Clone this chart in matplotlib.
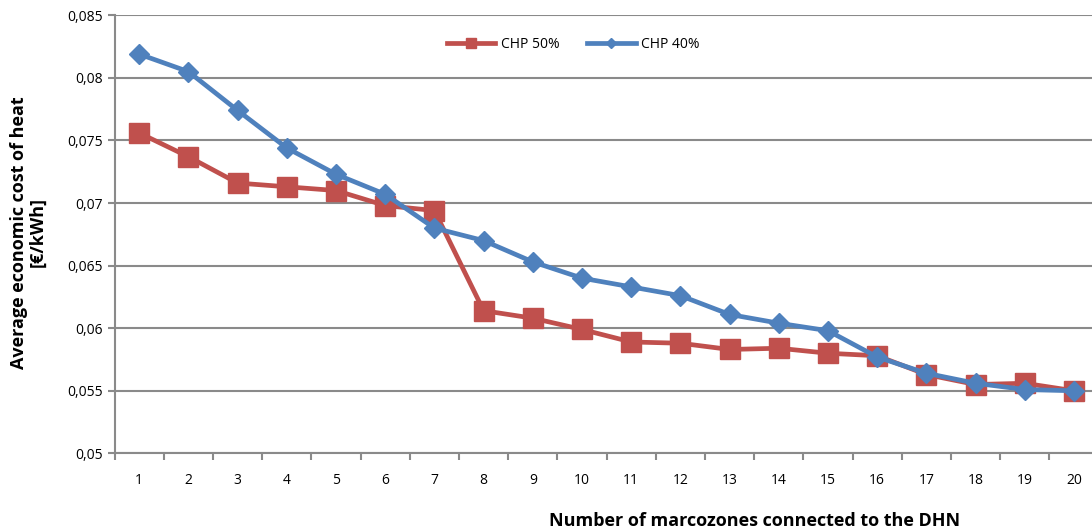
import matplotlib
matplotlib.use("Agg")
import matplotlib.pyplot as plt
from matplotlib.lines import Line2D
import numpy as np

plt.rcParams['font.family'] = ['Open Sans', 'DejaVu Sans']

zones = list(range(1, 21))
chp50 = [0.0756, 0.0737, 0.0716, 0.0713, 0.0710, 0.0698, 0.0694, 0.0614, 0.0608, 0.0599,
         0.0589, 0.0588, 0.0583, 0.0584, 0.0580, 0.0578, 0.0563, 0.0555, 0.0556, 0.0550]
chp40 = [0.0819, 0.0805, 0.0774, 0.0744, 0.0723, 0.0707, 0.0680, 0.0670, 0.0653, 0.0640,
         0.0633, 0.0626, 0.0611, 0.0604, 0.0598, 0.0577, 0.0564, 0.0556, 0.0551, 0.0550]
yticks = [0.05, 0.055, 0.06, 0.065, 0.07, 0.075, 0.08, 0.085]
ytick_labels = ['0,05', '0,055', '0,06', '0,065', '0,07', '0,075', '0,08', '0,085']

red = '#C0504D'
blue = '#4F81BD'
grid = '#8A8A8A'

fig = plt.figure(figsize=(10.92, 5.29), dpi=100)
ax = fig.add_axes([0.105, 0.143, 0.901, 0.828])

ax.plot(zones, chp50, color=red, lw=3.4, marker='s', ms=14, zorder=3)
ax.plot(zones, chp40, color=blue, lw=3.4, marker='D', ms=10.5, zorder=4)

ax.set_xlim(0.5, 20.5)
ax.set_ylim(0.05, 0.085)
ax.set_yticks(yticks)
ax.set_yticklabels(ytick_labels, fontsize=10)
ax.yaxis.grid(True, color=grid, lw=1.5)
ax.set_axisbelow(True)

ax.set_xticks(np.arange(0.5, 21, 1))
ax.set_xticklabels([])
ax.set_xticks(zones, minor=True)
ax.set_xticklabels([str(z) for z in zones], minor=True, fontsize=10)
ax.tick_params(axis='x', which='minor', length=0, pad=14)
ax.tick_params(axis='x', which='major', length=5, color=grid, width=1.5)
ax.tick_params(axis='y', length=5, color=grid, width=1.5)

for s in ['top', 'right']:
    ax.spines[s].set_visible(False)
for s in ['left', 'bottom']:
    ax.spines[s].set_color(grid)
    ax.spines[s].set_linewidth(1.5)

fig.text(0.026, 0.561, 'Average economic cost of heat\n[€/kWh]', rotation=90,
         ha='center', va='center', fontsize=13, fontweight='bold', linespacing=1.05)
fig.text(0.691, 0.016, 'Number of marcozones connected to the DHN', ha='center',
         va='center', fontsize=13, fontweight='bold')

handles = [Line2D([], [], color=red, lw=3.4, marker='s', ms=7),
           Line2D([], [], color=blue, lw=3.4, marker='D', ms=5)]
ax.legend(handles, ['CHP 50%', 'CHP 40%'], loc='center', bbox_to_anchor=(0.466, 0.934),
          ncol=2, frameon=False, fontsize=10, handlelength=3.5, columnspacing=2.0,
          handletextpad=0.4)

fig.savefig('out.png', dpi=100)
